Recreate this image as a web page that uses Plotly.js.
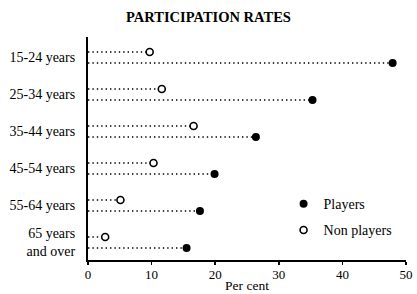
<!DOCTYPE html>
<html><head><meta charset="utf-8">
<script src="https://cdn.plot.ly/plotly-3.0.1.min.js"></script>
<style>html,body{margin:0;padding:0;background:#fff}#c{width:417px;height:294px}</style>
</head><body><div id="c"></div>
<script>
const categories = ["15-24 years","25-34 years","35-44 years","45-54 years","55-64 years","65 years<br>and over"];
const players = [47.9, 35.3, 26.4, 19.9, 17.6, 15.5];
const nonPlayers = [9.7, 11.6, 16.6, 10.3, 5.1, 2.7];
const xTicks = [0,10,20,30,40,50];

const idx = categories.map((c,i)=>i);
const off = 0.15;
function stems(vals, dy){
  const xs=[], ys=[];
  vals.forEach((v,i)=>{xs.push(0,v,null); ys.push(i+dy,i+dy,null);});
  return {xs, ys};
}
const sP = stems(players, off), sN = stems(nonPlayers, -off);
const serif = "Liberation Serif, Times New Roman, serif";
const data = [
  {x:sP.xs, y:sP.ys, mode:'lines', line:{color:'#000', width:1.4, dash:'1.4px,3px'}, showlegend:false, hoverinfo:'skip'},
  {x:sN.xs, y:sN.ys, mode:'lines', line:{color:'#000', width:1.4, dash:'1.4px,3px'}, showlegend:false, hoverinfo:'skip'},
  {x:players, y:idx.map(i=>i+off), mode:'markers', name:'Players', legendgroup:'p',
   marker:{color:'#000', size:8, symbol:'circle'}},
  {x:nonPlayers, y:idx.map(i=>i-off), mode:'markers', name:'Non players', legendgroup:'n',
   marker:{color:'#fff', size:7, symbol:'circle', line:{color:'#000', width:1.6}}}
];
const layout = {
  width:417, height:294,
  margin:{l:88, r:11, t:37, b:34},
  paper_bgcolor:'#fff', plot_bgcolor:'#fff',
  font:{family:serif, color:'#000', size:13},
  title:{text:'<b>PARTICIPATION RATES</b>', font:{family:serif, size:14.5, color:'#000'}, x:0.5, xanchor:'center', y:0.942, yanchor:'middle'},
  xaxis:{range:[0,50], tickvals:xTicks, ticktext:xTicks.map(String), showgrid:false, zeroline:false,
    showline:true, linecolor:'#000', linewidth:2, ticks:'outside', ticklen:3, tickwidth:1.5, tickcolor:'#000',
    ticklabelstandoff:-2,
    tickfont:{family:serif, size:13}, title:{text:'Per cent', font:{family:serif, size:13.5}, standoff:0}},
  yaxis:{range:[5.473,-0.554], tickvals:idx, ticktext:categories, showgrid:false, zeroline:false,
    showline:true, linecolor:'#000', linewidth:2, ticks:'', ticklabelstandoff:8, tickfont:{family:serif, size:14}},
  legend:{x:0.615, y:0.322, xanchor:'left', yanchor:'top', font:{family:serif, size:14}, bgcolor:'rgba(0,0,0,0)', tracegroupgap:5, itemwidth:30},
  showlegend:true
};
Plotly.newPlot('c', data, layout, {displayModeBar:false, staticPlot:true});
</script></body></html>
